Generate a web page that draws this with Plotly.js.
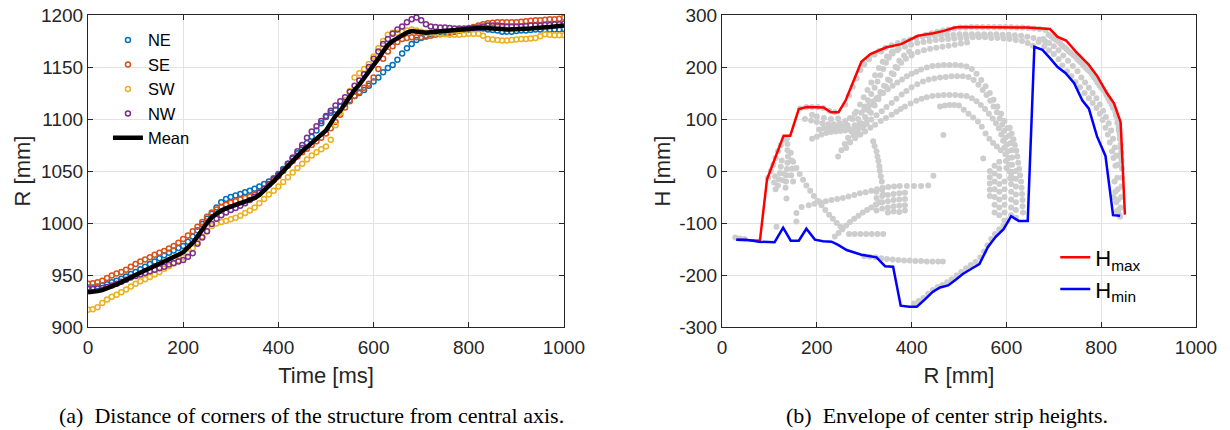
<!DOCTYPE html>
<html>
<head>
<meta charset="utf-8">
<script src="https://cdn.plot.ly/plotly-3.0.1.min.js"></script>
<style>
html,body{margin:0;padding:0;background:#fff;}
#chart{width:1230px;height:430px;}
</style>
</head>
<body>
<div id="chart"></div>
<script>
// ---------- Panel (a) data: time [ms] and corner distances R [mm] ----------
const timeMs = Array.from({length: 101}, (_, i) => i * 10);

const seriesNE = [938,938,939,940,941,943,944.5,946.5,948.5,951,953,955.5,958,960.5,963,966,969,971.5,973.5,976,978,982,987,993,999,1004,1009,1015,1020,1023,1025,1026.5,1028,1029.5,1031,1033,1035,1037.5,1040,1043,1047,1052,1057,1062,1067,1072,1077,1083,1089,1096,1102,1106,1109,1112,1115,1118,1122,1125,1128,1132,1136,1140,1145,1149,1152,1157,1163,1168,1172,1176,1178,1180,1182,1183,1183.5,1184,1184,1184,1185,1185.5,1186,1186.5,1187,1187,1186,1185.5,1185,1184,1184,1184,1184.5,1185,1185,1185.5,1186,1186,1186,1186,1186,1186,1186.5];

const seriesSE = [941.5,942,943,944.5,947,949.5,951.5,953,955,958,960.5,963,965,967,969.5,971.5,973,975.5,978,981,984.5,988,992,996.5,1001,1006,1010,1013,1015.5,1017.5,1019.5,1021,1022.5,1024,1025.5,1027,1029.5,1033,1037,1041,1045,1050,1055,1059.5,1064,1068,1071.5,1075,1078.5,1082,1086,1091,1097,1104,1111,1117,1122,1126,1130,1134,1140,1148,1158,1165,1170,1174,1177,1178,1178.5,1178.5,1178.5,1179,1180,1181,1181.5,1182,1183,1184,1185,1186.5,1187.5,1188.5,1190,1191,1192,1192.5,1193,1193,1193,1193,1193,1193.5,1194,1194.5,1195,1195,1195.5,1196,1196,1196.5,1197.5];

const seriesSW = [916.5,917,919,923,926.5,929,931,933.5,936,939,941.5,944,946,948,950.5,953,956,958.5,961,964,967,971,976,981.5,987,992,997,999.5,1001,1002,1003.5,1005,1007,1009.5,1012,1015,1019,1023,1027.5,1031,1035,1039.5,1044,1048.5,1053,1057,1061,1065,1068,1071,1073.5,1080,1094,1106,1118,1127,1140,1144,1148,1153,1160,1168,1175,1181,1183,1183,1184,1185,1186,1185,1184,1183,1183,1182.5,1182,1181.5,1181,1181,1181,1181.5,1182,1182,1182,1180,1177,1176.5,1176,1175.5,1175.5,1176,1176.5,1177,1177,1177.5,1178,1179.5,1181.5,1181,1180.5,1180.5,1180.5];

const seriesNW = [936.5,936.5,937,937.5,938.5,940,941.5,943.5,945.5,947.5,949,950.5,952,953.5,955,956.5,958,960,961.5,963,964.5,967.5,971,980,986,992,999,1004,1007.5,1010,1012.5,1014.5,1016.5,1019,1022,1025,1029,1033,1037.5,1042,1046,1051,1057,1063,1069,1075,1082,1088,1093,1098,1103,1108,1113,1117,1121,1126,1132,1137,1143,1150,1158,1165,1172,1177,1182,1186,1189,1193,1196,1197.5,1195,1191,1189,1188.5,1188,1188,1187.5,1187,1187,1187,1187,1187.5,1188,1189,1190,1190,1190,1189.5,1189,1189,1189,1189,1189.5,1190,1190,1190,1190.5,1190.5,1191,1191,1191.5];

const seriesMean = [933.5,933.5,934.5,935.5,937,939,941,943,945.5,947.5,949.5,952,954.5,956.5,958.5,960.5,963,965,967,969.5,972,976,981,987,994,1000,1005.5,1009,1012,1014,1016,1017.5,1019,1020.5,1022,1024,1027,1031,1035,1040,1045,1050,1055,1060,1065,1069,1073,1077,1081,1085,1089,1096,1103,1108,1115,1122,1128,1133,1139,1145,1151,1158,1165,1171,1175,1178,1180.5,1183,1184.5,1184,1183,1183,1183.5,1184,1184.5,1185,1185,1185.5,1186,1186.5,1187,1187,1187.5,1187.5,1187.5,1187.5,1187,1186.5,1186,1186,1186,1186.5,1187,1187,1187.5,1187.5,1188,1188.5,1189,1189.5,1190];

const cornerNames = ['NE', 'SE', 'SW', 'NW'];
const cornerColors = ['#0072BD', '#D95319', '#EDB120', '#7E2F8E'];

// ---------- Panel (b) data: envelope of center strip heights ----------
const hmaxR = [31,80,95,109,130,144,162,179,214,230,246,261,277,294,313,347,378,413,446,470,491,503,643,692,708,726,746,774,792,812,827,841,850];
const hmaxH = [-132,-134,-16,19,68,68,119,123,122,113,113,136,171,210,225,238,244,260,265,270,276,277,276,273,258,251,230,204,182,150,130,94,-84];

const hminR = [30,50,78,111,129,145,162,178,196,213,231,245,263,294,326,344,361,377,395,411,427,445,460,477,493,508,528,543,561,577,594,610,626,645,659,676,692,708,725,743,760,774,791,809,825,840];
const hminH = [-132,-132,-136,-137,-109,-134,-134,-111,-132,-135,-136,-142,-152,-161,-166,-183,-184,-259,-261,-261,-248,-232,-224,-220,-209,-198,-187,-179,-146,-127,-112,-87,-96,-96,239,233,217,200,188,169,136,120,67,29,-85,-86];

// tick labels (hyphen minus as in the original)
const xTickVals = [0, 200, 400, 600, 800, 1000];
const yTickVals1 = [900, 950, 1000, 1050, 1100, 1150, 1200];
const yTickVals2 = [-300, -200, -100, 0, 100, 200, 300];
const yTickText2 = ['-300', '-200', '-100', '0', '100', '200', '300'];

// grey sample points, grouped by visible strands, [R, H]
const greyTop1 = [[430,262],[442,265],[454,268],[466,270],[478,272],[490,274],[502,276],[514,276],[526,277],[538,277],[550,277],[562,277],[574,277],[586,277],[598,277],[610,277],[622,276],[634,276],[646,275],[658,274],[670,273],[682,271]];
const greyTop2 = [[300,205],[310,215],[320,224],[332,231],[345,237],[358,242],[371,246],[384,250],[397,253],[410,256],[423,258],[436,259],[449,260],[462,261],[475,262],[488,262],[501,263],[514,263],[527,263],[540,263],[553,263],[566,263],[579,263],[592,262],[605,262],[618,261],[631,260],[644,258],[657,256],[670,253],[682,249]];
const greyTop3 = [[360,230],[373,235],[386,239],[399,243],[412,246],[425,248],[438,250],[451,252],[464,253],[477,254],[490,255],[503,256],[516,256],[529,257],[542,257],[555,257],[568,256],[581,256],[594,255],[607,254],[620,252],[633,250],[645,246],[656,241]];
const greyTop4 = [[400,225],[413,229],[426,232],[439,235],[452,237],[465,239],[478,241],[491,243],[504,245],[517,247]];
const greyRight1 = [[689,262],[700,255],[710,249],[718,241],[727,234],[736,227],[745,220],[753,212],[762,204],[770,196],[778,190],[785,180],[792,170],[800,160],[809,152],[815,140],[822,128],[830,114],[834,100],[837,85],[839,70],[841,51],[842,35],[843,20],[844,5],[844,-13],[843,-30],[842,-50],[841,-70]];
const greyRight2 = [[668,248],[680,240],[690,232],[700,225],[710,215],[718,203],[728,192],[737,182],[746,171],[755,161],[765,150],[774,140],[782,131],[790,121],[797,110],[803,98],[809,83],[814,70],[818,55],[823,38],[826,25],[830,10],[834,-13],[835,-35],[836,-55],[836,-75]];
const greyRight3 = [[678,254],[690,246],[700,240],[710,232],[720,222],[730,212],[740,202],[750,192],[758,180],[766,170],[774,160],[782,150],[790,140],[797,128],[804,116],[810,104],[816,92],[821,78],[825,62],[829,45],[832,30],[835,12],[828,-20],[830,-40],[832,-60],[833,-78],[838,-84],[826,-50],[840,-88]];
const greyRight4 = [[695,258],[705,252],[714,245],[723,238],[732,230],[741,223],[749,216],[758,208],[766,200],[774,193],[781,185],[789,175],[796,165],[804,156],[811,146],[818,134],[825,121],[831,107],[834,93],[837,78],[839,62],[840,45],[840,28]];
const greyDiag1 = [[245,28],[252,40],[259,52],[266,64],[273,76],[280,88],[287,100],[294,112],[301,124],[308,136],[315,148],[322,160],[328,172],[334,184],[340,196],[346,208],[352,218],[360,226],[370,232]];
const greyDiag2 = [[262,44],[270,56],[278,68],[286,80],[294,92],[302,104],[310,116],[318,128],[326,140],[334,152],[342,164],[350,176],[358,188],[366,200],[374,212],[384,222],[395,230]];
const greyDiag3 = [[260,128],[268,145],[276,162],[284,178],[292,194],[300,206],[310,216],[322,224],[336,230]];
const greyDiag4 = [[275,100],[283,114],[291,128],[299,142],[307,156],[315,170],[323,184],[331,198],[339,210],[348,220],[358,228]];
const greyDiag5 = [[290,70],[298,84],[306,98],[314,112],[322,126],[330,138],[338,150],[346,162],[354,174],[362,186],[370,198],[378,208],[388,216],[400,222]];
const greyRows = [[175,100],[188,97],[200,94],[212,92],[224,90],[236,90],[248,92],[260,96],[270,102],[280,110],[190,62],[200,66],[210,70],[220,73],[230,75],[240,76],[250,77],[260,78],[270,80],[280,84],[290,90],[165,120],[178,123],[190,123],[202,123],[214,121],[226,116],[238,113],[190,108],[200,105],[215,102],[230,100],[245,101],[205,80],[215,82],[225,82],[235,83],[245,84],[255,86],[265,88]];
const greyArchB = [[300,118],[310,126],[320,134],[330,142],[340,150],[350,157],[360,164],[370,170],[380,176],[390,182],[400,187],[410,191],[420,195],[432,199],[444,202],[456,203],[468,204],[480,204],[492,204],[504,203],[516,201],[527,196],[537,187],[547,175],[556,163],[565,150],[573,137],[581,124],[589,110],[596,96],[602,82],[606,68],[609,54],[611,40],[612,26],[612,12],[612,-2],[612,-14]];
const greyChain = [[607,83],[611,72],[615,61],[618,50],[621,39],[623,28],[625,16],[627,4],[629,-8],[631,-20],[632,-32],[633,-44],[634,-56],[634,-68],[635,-80]];
const greyArchC = [[285,75],[295,83],[305,91],[315,99],[326,107],[337,115],[347,123],[358,131],[368,139],[379,147],[389,154],[400,161],[412,167],[424,172],[436,176],[448,178],[460,180],[472,181],[484,182],[496,182],[508,182],[520,181],[531,175],[541,166],[550,156],[558,146],[566,135],[573,124],[580,113],[586,101],[591,89],[595,77],[598,64],[601,51],[603,38],[605,25],[606,12],[607,-1],[608,-14]];
const greyArchD = [[270,55],[281,63],[292,70],[302,76],[313,83],[323,89],[335,96],[346,102],[358,108],[368,114],[377,119],[386,124],[398,130],[410,135],[421,139],[432,142],[444,144],[456,145],[468,146],[480,146],[492,146],[504,145],[516,144],[527,140],[537,134],[546,127],[555,119],[563,110],[571,101],[578,92],[584,82],[589,70],[593,58],[596,45],[598,32],[599,19],[600,6]];
const greyArchE = [[460,124],[470,126],[480,127],[490,127],[500,126],[510,118],[520,110],[530,103],[540,95],[548,85],[556,72],[564,62],[572,54],[580,47],[588,40],[467,69],[551,24],[446,-9]];
const greyLeftChain = [[319,57],[322,48],[326,38],[328,28],[330,19],[332,9],[333,0],[335,-10],[337,-20],[339,-32],[340,-45]];
const greyMidBand = [[183,-66],[195,-63],[207,-60],[219,-58],[231,-56],[243,-54],[255,-52],[267,-49],[279,-46],[291,-43],[303,-41],[315,-38],[327,-35],[339,-33],[351,-31],[363,-30],[375,-29],[390,-29],[405,-29],[420,-29],[435,-28]];
const greyBlock = [[326,-40],[326,-52],[326,-64],[326,-76],[338,-36],[338,-48],[338,-60],[338,-72],[350,-46],[350,-58],[350,-70],[350,-80],[362,-44],[362,-56],[362,-68],[362,-78],[374,-43],[374,-55],[374,-67],[374,-79],[386,-42],[386,-54],[386,-66],[386,-76]];
const greyLeftCluster = [[97,-13],[103,0],[108,12],[113,25],[118,38],[124,50],[130,60],[137,63],[138,52],[138,40],[139,28],[138,16],[137,4],[136,-8],[135,-20],[134,-32],[126,20],[124,8],[122,-4],[120,-16],[118,-28],[112,-10],[110,-22],[113,-35],[130,-5],[128,-18],[145,35],[147,20],[148,5],[146,-8],[150,-20],[136,-53],[157,-81],[157,-97],[168,-69],[115,-107],[28,-128],[38,-130],[48,-131]];
const greyDescLeft = [[150,18],[157,6],[164,-6],[171,-17],[178,-28],[186,-38],[194,-48],[202,-57],[210,-66],[218,-75],[226,-84],[234,-92],[242,-100],[250,-107]];
const greyRiseLow = [[238,-126],[246,-119],[254,-112],[262,-105],[270,-98],[279,-92],[288,-86],[297,-80],[306,-75],[315,-70],[324,-65],[333,-60],[268,-121],[280,-121],[292,-121],[304,-121],[316,-121],[328,-121],[340,-121]];
const greyLowLine = [[300,-164],[312,-165],[324,-166],[336,-168],[348,-169],[360,-170],[372,-171],[384,-172],[396,-172],[408,-173],[420,-173],[432,-174],[444,-174],[456,-174],[466,-174]];
const greyLowRight = [[405,-255],[415,-250],[425,-244],[435,-236],[445,-229],[455,-223],[465,-219],[475,-214],[485,-208],[495,-201],[505,-194],[515,-187],[525,-181],[535,-175],[545,-166],[553,-155],[560,-143],[568,-131],[576,-121],[585,-112],[594,-104],[602,-95]];
const greyRightCluster = [[565,0],[565,-12],[565,-24],[565,-36],[565,-48],[575,10],[575,-5],[575,-20],[575,-35],[575,-50],[575,-65],[575,-80],[585,18],[585,5],[585,-10],[585,-25],[585,-40],[585,-55],[585,-70],[585,-85],[596,-20],[596,-35],[596,-50],[596,-65],[596,-80],[596,-95],[610,-10],[610,-25],[610,-40],[610,-55],[610,-70],[610,-85],[620,0],[620,-15],[620,-30],[620,-45],[620,-60],[620,-75],[620,-90]];

const greyStrands = [greyTop1, greyTop2, greyTop3, greyTop4, greyRight1, greyRight2, greyRight3, greyRight4,
  greyDiag1, greyDiag2, greyDiag3, greyDiag4, greyDiag5, greyRows, greyArchB, greyChain, greyArchC, greyArchD, greyArchE,
  greyLeftChain, greyMidBand, greyBlock, greyLeftCluster, greyDescLeft, greyRiseLow, greyLowLine,
  greyLowRight, greyRightCluster];
const greyPts = greyStrands.flat();

// ---------- traces ----------
const FONT = '"Liberation Sans", Arial, Helvetica, sans-serif';
const SERIF = '"Liberation Serif", "Times New Roman", serif';
const allSeries = [seriesNE, seriesSE, seriesSW, seriesNW];
const traces = [];
allSeries.forEach((s, k) => {
  traces.push({
    type: 'scatter', mode: 'markers', x: timeMs, y: s, name: cornerNames[k],
    xaxis: 'x', yaxis: 'y', legend: 'legend',
    marker: {symbol: 'circle-open', size: 5, color: cornerColors[k], line: {width: 1.5, color: cornerColors[k]}}
  });
});
traces.push({
  type: 'scatter', mode: 'lines', x: timeMs, y: seriesMean, name: 'Mean',
  xaxis: 'x', yaxis: 'y', legend: 'legend',
  line: {color: '#000000', width: 4.5}
});
traces.push({
  type: 'scatter', mode: 'markers', x: greyPts.map(p => p[0]), y: greyPts.map(p => p[1]),
  xaxis: 'x2', yaxis: 'y2', showlegend: false, hoverinfo: 'skip',
  marker: {size: 6, color: '#cdcdcd'}
});
traces.push({
  type: 'scatter', mode: 'lines', x: hmaxR, y: hmaxH, name: 'H<sub>max</sub>',
  xaxis: 'x2', yaxis: 'y2', legend: 'legend2',
  line: {color: '#ff0000', width: 2.5}
});
traces.push({
  type: 'scatter', mode: 'lines', x: hminR, y: hminH, name: 'H<sub>min</sub>',
  xaxis: 'x2', yaxis: 'y2', legend: 'legend2',
  line: {color: '#0000ff', width: 2.5}
});

function axisStyle(extra) {
  return Object.assign({
    showgrid: true, gridcolor: '#e3e3e3', gridwidth: 1,
    zeroline: false, showline: true, linecolor: '#262626', linewidth: 1,
    mirror: 'ticks', ticks: 'inside', ticklen: 5, tickcolor: '#262626',
    tickfont: {family: FONT, size: 19, color: '#262626'},
    fixedrange: true
  }, extra);
}
const titleFont = {family: FONT, size: 22, color: '#262626'};

const layout = {
  width: 1230, height: 430,
  margin: {l: 88, r: 34, t: 15, b: 103},
  paper_bgcolor: '#ffffff', plot_bgcolor: '#ffffff',
  font: {family: FONT, color: '#262626'},
  xaxis: axisStyle({domain: [0, 0.4296], range: [0, 1000], tickmode: 'array', tickvals: xTickVals,
    ticklabelstandoff: 3,
    title: {text: 'Time [ms]', font: titleFont, standoff: 10}}),
  yaxis: axisStyle({range: [900, 1200], tickmode: 'array', tickvals: yTickVals1,
    title: {text: 'R [mm]', font: titleFont, standoff: 4}}),
  xaxis2: axisStyle({domain: [0.5722, 1], range: [0, 1000], tickmode: 'array', tickvals: xTickVals, anchor: 'y2',
    ticklabelstandoff: 3,
    title: {text: 'R [mm]', font: titleFont, standoff: 10}}),
  yaxis2: axisStyle({range: [-300, 300], tickmode: 'array', tickvals: yTickVals2, ticktext: yTickText2, anchor: 'x2',
    title: {text: 'H [mm]', font: titleFont, standoff: 2}}),
  showlegend: true,
  legend: {x: 0.018, y: 0.975, xanchor: 'left', yanchor: 'top', bgcolor: 'rgba(0,0,0,0)',
    font: {family: FONT, size: 16.5, color: '#000'}, tracegroupgap: 0, itemsizing: 'trace'},
  legend2: {x: 0.873, y: 0.29, xanchor: 'left', yanchor: 'top', bgcolor: 'rgba(255,255,255,0)',
    font: {family: FONT, size: 22, color: '#000'}, tracegroupgap: 0},
  annotations: [
    {text: '(a)  Distance of corners of the structure from central axis.', xref: 'x domain', yref: 'paper',
      x: 0.47, y: -0.285, xanchor: 'center', yanchor: 'middle', showarrow: false,
      font: {family: SERIF, size: 22, color: '#000'}},
    {text: '(b)  Envelope of center strip heights.', xref: 'x2 domain', yref: 'paper',
      x: 0.475, y: -0.285, xanchor: 'center', yanchor: 'middle', showarrow: false,
      font: {family: SERIF, size: 22, color: '#000'}}
  ]
};

Plotly.newPlot('chart', traces, layout, {staticPlot: true, displayModeBar: false});
</script>
</body>
</html>
